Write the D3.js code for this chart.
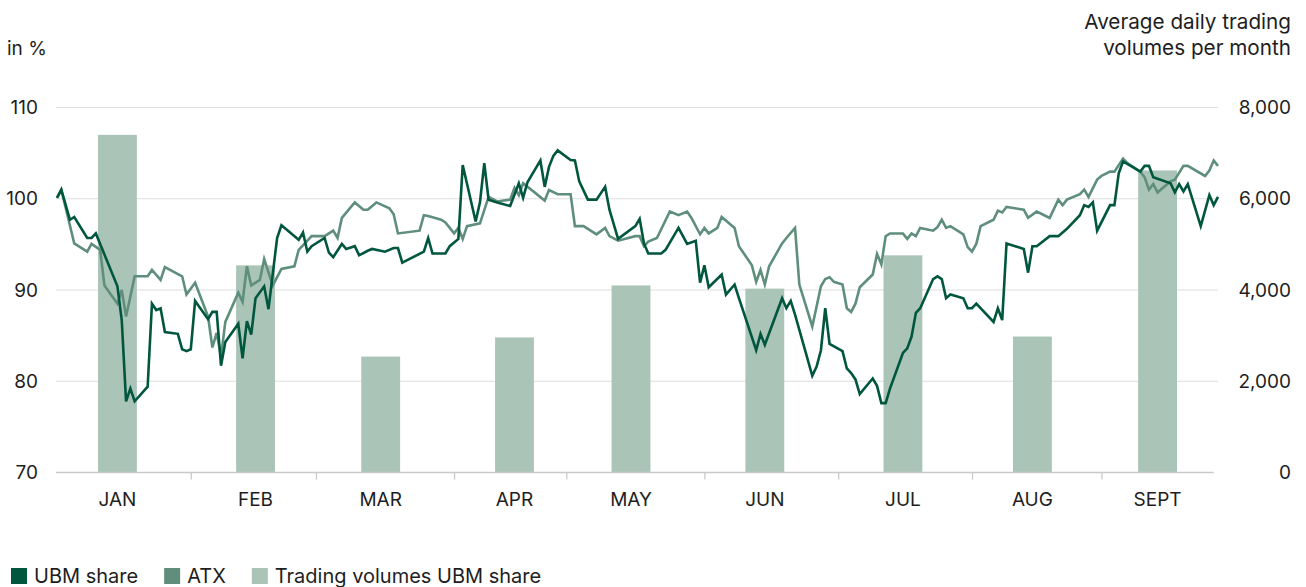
<!DOCTYPE html>
<html>
<head>
<meta charset="utf-8">
<script src="https://cdn.jsdelivr.net/npm/d3@7"></script>
<style>
  body { margin: 0; background: #fff; }
  svg text { font-family: 'Inter', 'Noto Sans', sans-serif; fill: #1e1e1e; }
  .tick text { font-size: 19px; }
  .month text { font-size: 19px; }
</style>
</head>
<body>
<svg id="chart" width="1306" height="587"></svg>
<script>
// day = day of year 2021 (0 = 1 Jan), value = indexed price in %
const ubmShare = [
  [3,100.1],[4,101.0],[6,97.7],[7,98.0],[10,95.7],[11,95.7],[12,96.2],[17,90.4],[18,86.7],
  [19,77.8],[20,79.2],[21,77.8],[24,79.4],[25,88.5],[26,87.8],[27,88.0],[28,85.4],[31,85.2],
  [32,83.5],[33,83.3],[34,83.5],[35,88.8],[38,86.8],[39,87.6],[40,87.6],[41,81.7],[42,84.3],
  [45,86.3],[46,82.5],[47,86.6],[48,85.1],[49,89.1],[51,90.4],[52,87.9],[54,95.7],[55,97.1],
  [59,95.5],[60,96.3],[61,94.2],[62,94.8],[65,95.7],[66,94.1],[67,93.6],[69,95.05],[70,94.5],
  [72,94.8],[73,93.8],[75,94.3],[76,94.5],[79,94.2],[81,94.6],[82,94.6],[83,93.0],[88,94.2],
  [89,95.7],[90,94.0],[93,94.0],[94,94.8],[96,95.6],[97,103.7],[100,97.5],[101,99.6],[102,103.9],
  [103,99.9],[105,99.6],[108,99.2],[110,101.7],[111,100.1],[112,101.8],[115,104.2],[116,101.3],
  [117,103.5],[118,104.7],[119,105.3],[122,104.25],[123,104.2],[124,101.9],[126,99.9],[128,99.9],
  [130,101.3],[131,98.8],[133,95.6],[137,97.0],[138,97.8],[139,95.1],[140,94.0],[143,94.0],
  [144,94.4],[147,96.8],[149,95.05],[151,95.4],[152,90.8],[153,92.7],[154,90.3],[157,91.7],
  [158,89.5],[160,90.6],[161,89.1],[165,83.4],[166,85.2],[167,84.0],[171,89.1],[172,88.0],
  [173,88.8],[174,87.3],[178,80.6],[179,81.6],[180,83.4],[181,88.0],[182,84.1],[185,83.3],
  [186,81.4],[187,80.9],[188,80.2],[189,78.6],[192,80.3],[193,79.5],[194,77.6],[195,77.6],
  [196,79.2],[199,83.1],[200,83.6],[201,84.9],[202,87.5],[203,88.0],[206,91.2],[207,91.5],
  [208,91.2],[209,89.1],[210,89.5],[213,89.1],[214,88.0],[215,88.0],[216,88.5],[220,86.5],
  [221,88.0],[222,86.7],[223,95.1],[227,94.5],[228,91.9],[229,94.8],[230,94.8],[233,95.9],
  [235,95.9],[237,96.7],[240,98.2],[241,99.3],[242,99.1],[243,99.6],[244,96.5],[247,99.3],
  [248,99.3],[249,102.8],[250,104.1],[254,102.97],[255,103.6],[256,103.6],[257,102.35],
  [261,101.7],[262,100.7],[263,101.6],[264,100.8],[265,101.6],[268,97.0],[270,100.4],
  [271,99.3],[272,100.2]
];
const atx = [
  [3,100.1],[4,101.0],[7,95.1],[10,94.2],[11,95.05],[13,94.4],[14,90.5],[17,88.5],[18,90.0],
  [19,87.1],[21,91.5],[24,91.5],[25,92.2],[27,91.1],[28,92.5],[32,91.5],[33,89.5],[35,90.8],
  [38,87.1],[39,83.7],[40,85.3],[41,82.7],[42,86.5],[45,89.7],[46,88.7],[47,92.6],[48,90.5],
  [50,91.1],[51,93.4],[53,90.5],[55,92.3],[58,92.6],[59,94.4],[62,95.9],[65,95.9],[67,96.5],
  [68,95.7],[69,97.9],[72,99.6],[74,98.8],[75,98.8],[77,99.6],[80,98.96],[81,98.3],[82,96.2],
  [87,96.5],[88,98.2],[89,98.1],[92,97.7],[93,97.4],[95,96.2],[96,96.8],[97,95.6],[98,97.0],
  [101,97.3],[103,100.2],[105,99.7],[108,99.9],[109,101.2],[110,100.4],[111,101.7],[116,99.8],
  [117,100.96],[119,100.5],[122,100.5],[123,97.0],[125,97.0],[128,96.1],[130,96.8],[131,95.9],
  [133,95.4],[137,95.9],[138,95.9],[139,94.8],[140,95.3],[142,95.7],[145,98.6],[147,98.2],
  [149,98.6],[150,97.9],[152,96.1],[153,96.8],[154,96.2],[156,96.8],[157,98.0],[160,96.8],
  [161,94.8],[164,92.7],[165,90.9],[166,92.2],[167,90.6],[168,92.6],[171,95.1],[172,95.7],
  [174,96.8],[175,90.6],[178,86.0],[180,90.4],[181,91.2],[182,91.4],[183,90.9],[185,90.6],
  [186,88.0],[187,87.6],[188,88.5],[189,90.3],[192,91.7],[193,93.96],[194,92.8],[195,95.9],
  [196,96.2],[199,96.2],[200,95.6],[201,96.2],[202,95.9],[203,96.8],[206,96.5],[207,96.9],
  [208,97.7],[209,96.8],[210,97.0],[213,96.1],[214,94.7],[215,94.2],[216,95.05],[217,97.0],
  [220,97.7],[221,98.7],[222,98.5],[223,99.1],[227,98.8],[228,97.9],[230,98.6],[233,97.9],
  [235,99.9],[236,99.3],[237,99.9],[240,100.5],[241,101.0],[242,100.2],[244,102.1],[245,102.5],
  [247,102.97],[248,102.97],[250,104.4],[251,103.9],[254,102.97],[255,102.35],[256,101.0],
  [257,101.6],[258,100.7],[261,101.9],[262,102.1],[264,103.6],[265,103.6],[269,102.5],
  [270,103.1],[271,104.2],[272,103.6]
];
const months = ['JAN','FEB','MAR','APR','MAY','JUN','JUL','AUG','SEPT'];
const monthDays = [17, 49, 78, 109, 136, 167, 199, 229, 258];
const volumes = [7400, 4540, 2540, 2960, 4100, 4030, 4760, 2980, 6620];
const tickDays = [34, 63, 95, 121, 153, 184, 215, 245];
const leftTicks = [70, 80, 90, 100, 110];
const rightTicks = [0, 2000, 4000, 6000, 8000];
const legendItems = ['UBM share', 'ATX', 'Trading volumes UBM share'];
const colors = ['#00573e', '#5f8f7c', '#aac4b8'];

const svg = d3.select('#chart');

const x = d3.scaleLinear().domain([3, 272]).range([57, 1218]);
const yL = d3.scaleLinear().domain([70, 110]).range([472.5, 107.5]);
const yR = d3.scaleLinear().domain([0, 8000]).range([472.5, 107.5]);

// gridlines
svg.append('g').selectAll('line').data(leftTicks.slice(1)).enter().append('line')
  .attr('x1', 56).attr('x2', 1218)
  .attr('y1', d => yL(d)).attr('y2', d => yL(d))
  .attr('stroke', '#dedede').attr('stroke-width', 1.2);

// bars
svg.append('g').selectAll('rect').data(volumes).enter().append('rect')
  .attr('x', (d, i) => x(monthDays[i] - 4.5))
  .attr('width', (d, i) => x(monthDays[i] + 4.5) - x(monthDays[i] - 4.5))
  .attr('y', d => yR(d))
  .attr('height', d => yR(0) - yR(d))
  .attr('fill', colors[2]);

// x axis
const xAxisG = svg.append('g').attr('transform', `translate(0,${yL(70)})`)
  .call(d3.axisBottom(x).tickValues(tickDays).tickSize(7).tickSizeOuter(0).tickFormat(''));
xAxisG.select('.domain').attr('stroke', '#cacaca').attr('stroke-width', 1.3)
  .attr('d', `M56,0H${x(271)}`);
xAxisG.selectAll('.tick line').attr('stroke', '#cacaca').attr('stroke-width', 1.3);

svg.append('g').attr('class', 'month').selectAll('text').data(months).enter().append('text')
  .attr('x', (d, i) => x(monthDays[i]))
  .attr('y', 506)
  .attr('text-anchor', 'middle')
  .text(d => d);

// left axis
const yAxisL = svg.append('g').attr('transform', 'translate(38,0)')
  .call(d3.axisLeft(yL).tickValues(leftTicks).tickSize(0).tickPadding(0));
yAxisL.select('.domain').remove();

// right axis
const yAxisR = svg.append('g').attr('transform', 'translate(1291,0)')
  .call(d3.axisLeft(yR).tickValues(rightTicks).tickSize(0).tickPadding(0).tickFormat(d3.format(',')));
yAxisR.select('.domain').remove();
svg.selectAll('.tick text').attr('fill', '#1e1e1e');

// lines
const line = d3.line().x(d => x(d[0])).y(d => yL(d[1]));
svg.append('path').datum(atx).attr('d', line)
  .attr('fill', 'none').attr('stroke', colors[1]).attr('stroke-width', 2.6);
svg.append('path').datum(ubmShare).attr('d', line)
  .attr('fill', 'none').attr('stroke', colors[0]).attr('stroke-width', 2.6);

// axis titles
svg.append('text').attr('x', 7).attr('y', 55).style('font-size', '19px').text('in %');
svg.append('text').attr('x', 1291).attr('y', 29).attr('text-anchor', 'end')
  .style('font-size', '20.7px').text('Average daily trading');
svg.append('text').attr('x', 1291).attr('y', 55).attr('text-anchor', 'end')
  .style('font-size', '20.7px').text('volumes per month');

// legend
const legend = svg.append('g');
let cx = 11;
legendItems.forEach((name, i) => {
  legend.append('rect').attr('x', cx).attr('y', 568).attr('width', 16).attr('height', 16)
    .attr('fill', colors[i]);
  const t = legend.append('text').attr('x', cx + 23).attr('y', 583)
    .style('font-size', '20px').text(name);
  cx = cx + 23 + t.node().getComputedTextLength() + 26;
});
</script>
</body>
</html>
